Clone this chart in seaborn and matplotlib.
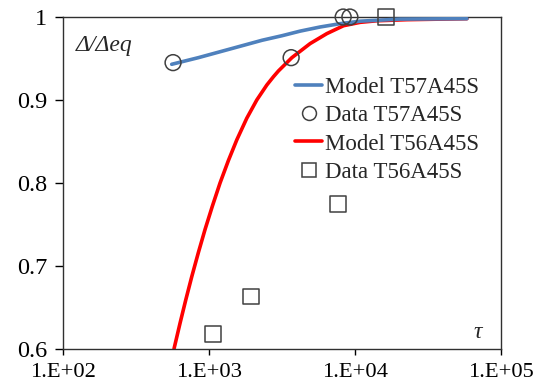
import matplotlib
matplotlib.use("Agg")
import matplotlib.pyplot as plt
import seaborn as sns
import pandas as pd
from matplotlib.lines import Line2D

sns.set_style("white")
plt.rcParams['font.family'] = ['Liberation Serif', 'DejaVu Serif']

# Model T57A45S curve
model57_tau = [558, 850, 1440, 2323, 3184, 4230, 5800, 7960, 10900, 20500, 58700]
model57_val = [0.943, 0.951, 0.962, 0.972, 0.9775, 0.983, 0.988, 0.992, 0.995,
               0.9975, 0.998]

# Model T56A45S curve
model56_tau = [579, 637, 697, 766, 850, 945, 1060, 1197, 1365, 1559, 1824, 2136,
               2501, 2776, 3005, 3713, 4955, 6446, 8380, 10900, 14200, 22800, 58700]
model56_val = [0.600, 0.631, 0.659, 0.687, 0.716, 0.744, 0.772, 0.800, 0.827, 0.852,
               0.878, 0.900, 0.918, 0.928, 0.935, 0.951, 0.968, 0.980, 0.9895,
               0.9936, 0.9955, 0.9968, 0.998]

# Data points
data57_tau = [570, 3670, 8340, 9270]
data57_val = [0.945, 0.951, 1.0, 1.0]
data56_tau = [1067, 1944, 7670, 16400]
data56_val = [0.618, 0.663, 0.774, 1.0]

xticks = [1e2, 1e3, 1e4, 1e5]
xticklabels = ["1.E+02", "1.E+03", "1.E+04", "1.E+05"]
yticks = [0.6, 0.7, 0.8, 0.9, 1.0]
yticklabels = ["0.6", "0.7", "0.8", "0.9", "1"]

blue = "#4F81BD"
red = "#FF0000"
edge = "#404040"

fig = plt.figure(figsize=(5.33, 3.87), dpi=100)
ax = fig.add_axes([0.1176, 0.099, 0.8218, 0.857])

df57 = pd.DataFrame({"tau": model57_tau, "val": model57_val})
df56 = pd.DataFrame({"tau": model56_tau, "val": model56_val})
d57 = pd.DataFrame({"tau": data57_tau, "val": data57_val})
d56 = pd.DataFrame({"tau": data56_tau, "val": data56_val})

sns.lineplot(data=df57, x="tau", y="val", ax=ax, color=blue, lw=2.6, sort=True, zorder=3)
sns.lineplot(data=df56, x="tau", y="val", ax=ax, color=red, lw=2.6, sort=True, zorder=2)
sns.scatterplot(data=d57, x="tau", y="val", ax=ax, marker="o", s=130,
                facecolor="none", edgecolor=edge, linewidth=1.1, zorder=5, clip_on=False)
sns.scatterplot(data=d56, x="tau", y="val", ax=ax, marker="s", s=130,
                facecolor="none", edgecolor=edge, linewidth=1.1, zorder=5, clip_on=False)

ax.set_xscale("log")
ax.set_xlim(1e2, 1e5)
ax.set_ylim(0.6, 1.0)
ax.set_xticks(xticks)
ax.set_xticklabels(xticklabels)
ax.minorticks_off()
ax.set_yticks(yticks)
ax.set_yticklabels(yticklabels)
ax.set_xlabel("")
ax.set_ylabel("")
ax.tick_params(axis="y", labelsize=17.5, colors="black", direction="out",
               length=6, width=1, pad=5, left=True)
ax.tick_params(axis="x", labelsize=16.2, colors="black", direction="out",
               length=4, width=1, pad=6, bottom=True)
for s in ax.spines.values():
    s.set_color("#303030")
    s.set_linewidth(1.0)

ax.text(0.03, 0.915, "Δ/Δeq", transform=ax.transAxes, fontsize=17, style="italic",
        ha="left", va="center")
ax.text(0.948, 0.05, "τ", transform=ax.transAxes, fontsize=17, style="italic",
        ha="center", va="center")

handles = [
    Line2D([], [], color=blue, lw=2.6),
    Line2D([], [], color=edge, marker="o", ls="none", markerfacecolor="none", markersize=10, markeredgewidth=1.1),
    Line2D([], [], color=red, lw=2.6),
    Line2D([], [], color=edge, marker="s", ls="none", markerfacecolor="none", markersize=10, markeredgewidth=1.1),
]
labels = ["Model T57A45S", "Data T57A45S", "Model T56A45S", "Data T56A45S"]
ax.legend(handles, labels, loc="upper left", bbox_to_anchor=(0.53, 0.82),
          frameon=False, fontsize=16.5, handlelength=1.2, handletextpad=0.1,
          labelspacing=0.32, borderpad=0, borderaxespad=0)

fig.savefig("out.png", dpi=100)
